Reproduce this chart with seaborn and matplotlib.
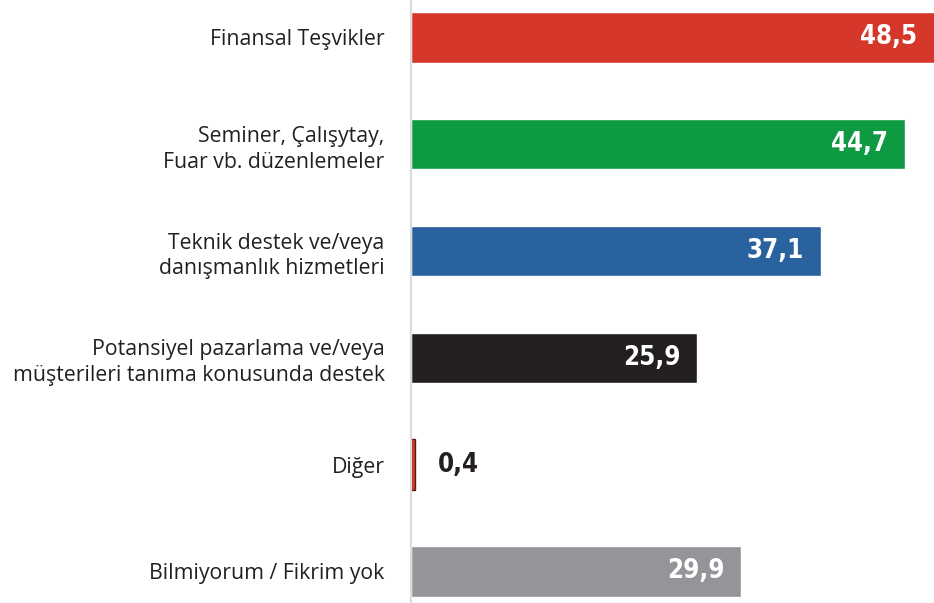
import matplotlib
matplotlib.use('Agg')
import matplotlib.pyplot as plt
import seaborn as sns
import pandas as pd

# veriler
kategoriler = ['Finansal Teşvikler',
               'Seminer, Çalışytay,\nFuar vb. düzenlemeler',
               'Teknik destek ve/veya\ndanışmanlık hizmetleri',
               'Potansiyel pazarlama ve/veya\nmüşterileri tanıma konusunda destek',
               'Diğer',
               'Bilmiyorum / Fikrim yok']
degerler = [48.5, 44.7, 37.1, 25.9, 0.4, 29.9]
etiketler = ['48,5', '44,7', '37,1', '25,9', '0,4', '29,9']
renkler = ['#d5372b', '#0d9a40', '#2a629f', '#231f20', '#d5372b', '#939598']

sns.set_style('white')
plt.rcParams['font.family'] = ['Open Sans', 'DejaVu Sans']

df = pd.DataFrame({'kategori': kategoriler, 'deger': degerler})

fig = plt.figure(figsize=(9.34, 6.03), dpi=100)
ax = fig.add_axes([411/934, 0, 1 - 411/934, 1])
sns.barplot(data=df, y='kategori', x='deger', hue='kategori', palette=renkler,
            orient='h', width=0.473, legend=False, ax=ax, saturation=1)

# Diğer çubuğunun kenarı
ax.patches[4].set_edgecolor('#5a1a14')
ax.patches[4].set_linewidth(1)

ax.set_xlim(0, 47.33)
ax.set_ylim(5.297, -0.351)
ax.set_xlabel('')
ax.set_ylabel('')
ax.set_xticks([])
for s in ['top', 'right', 'bottom']:
    ax.spines[s].set_visible(False)
ax.spines['left'].set_color('#dcdcdc')
ax.spines['left'].set_linewidth(1.6)
ax.tick_params(axis='y', length=0, pad=19)
ax.set_yticks(range(len(kategoriler)))
ax.set_yticklabels(kategoriler, fontsize=15.3, color='#231f20', linespacing=1.3)

for i, (v, t) in enumerate(zip(degerler, etiketler)):
    if v < 5:
        ax.annotate(t, (v, i), xytext=(16.5, 0), textcoords='offset points',
                    ha='left', va='center', fontsize=18.5, fontweight='bold',
                    fontstretch='condensed', color='#231f20', family='DejaVu Sans')
    else:
        ax.annotate(t, (min(v, 47.33), i), xytext=(-12, 0), textcoords='offset points',
                    ha='right', va='center', fontsize=18.5, fontweight='bold',
                    fontstretch='condensed', color='white', family='DejaVu Sans')

plt.savefig('out.png', dpi=100)
plt.close()
